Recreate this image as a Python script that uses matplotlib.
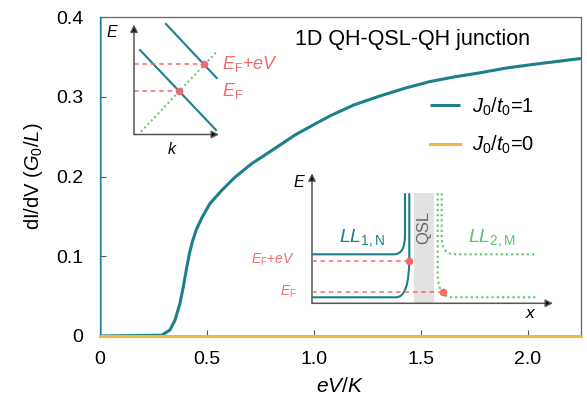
import matplotlib
matplotlib.use("Agg")
import matplotlib.pyplot as plt
from matplotlib.path import Path
from matplotlib.patches import PathPatch, Rectangle

plt.rcParams['font.family'] = ['Liberation Sans', 'DejaVu Sans']
plt.rcParams['mathtext.fontset'] = 'custom'
plt.rcParams['mathtext.rm'] = 'Liberation Sans'
plt.rcParams['mathtext.it'] = 'Liberation Sans:italic'
plt.rcParams['mathtext.bf'] = 'Liberation Sans:bold'

# ---------------- data ----------------
x_j1 = [0, 0, 0.2885, 0.327, 0.351, 0.374, 0.390, 0.405, 0.418, 0.432, 0.450, 0.476, 0.514,
        0.569, 0.631, 0.709, 0.803, 0.912, 1.0, 1.076, 1.19, 1.31, 1.43, 1.543, 1.66,
        1.777, 1.9, 2.01, 2.13, 2.25]
y_j1 = [0.45, 0, 0.001, 0.0075, 0.02, 0.041, 0.062, 0.085, 0.103, 0.118, 0.133, 0.148, 0.166,
        0.1825, 0.199, 0.216, 0.2325, 0.252, 0.265, 0.276, 0.290, 0.301, 0.311, 0.319, 0.325,
        0.330, 0.336, 0.340, 0.344, 0.348]
x_j0 = [0, 2.25]
y_j0 = [0, 0]
label_j1 = '$J_0/t_0$=1'
label_j0 = '$J_0/t_0$=0'
xticks = [0, 0.5, 1.0, 1.5, 2.0]
xticklabels = ['0', '0.5', '1.0', '1.5', '2.0']
yticks = [0, 0.1, 0.2, 0.3, 0.4]
yticklabels = ['0', '0.1', '0.2', '0.3', '0.4']

# schematic inset 1 (E vs k), local pixel units
k_lineA = ([6, 82], [84.5, 4.5])
k_lineB = ([32, 82.7], [110.5, 56.5])
k_green = ([7, 82.7], [2.8, 82.8])
k_levels = [43.5, 70.5]
k_cross = [45.3, 70.3]

# schematic inset 2 (E vs x), local pixel units
qsl_band = (102, 122)
ll_levels = [6, 49]

TEAL = '#1d7f89'
YELLOW = '#f0b449'
RED = '#f26b6b'
GREEN = '#5cc46e'
W, H = 587, 405

fig = plt.figure(figsize=(W / 100, H / 100), dpi=100)
ax = fig.add_axes([100 / W, 1 - 336 / H, 481 / W, 319 / H])

ax.plot(x_j1, y_j1, color=TEAL, lw=2.2, label=label_j1, zorder=3, solid_capstyle='butt')
ax.plot(x_j0, y_j0, color=YELLOW, lw=2.2, label=label_j0, zorder=4, clip_on=False)
ax.set_xlim(0, 2.25)
ax.set_ylim(0, 0.4)
ax.set_xticks(xticks)
ax.set_xticklabels(xticklabels)
ax.set_yticks(yticks)
ax.set_yticklabels(yticklabels)
ax.tick_params(direction='in', length=4, width=0.8, color='#555555', labelsize=14)
ax.tick_params(axis='x', pad=11)
ax.tick_params(axis='y', pad=12)
for s in ax.spines.values():
    s.set_color('#666666')
    s.set_linewidth(0.9)
    s.set_zorder(2)
ax.set_xlabel('$eV/K$', fontsize=15, labelpad=6)
ax.set_ylabel('dI/dV ($G_0/L$)', fontsize=14.5, labelpad=8)
ax.text(0.405, 0.93, '1D QH-QSL-QH junction', transform=ax.transAxes, ha='left',
        va='center', fontsize=15.5)
ax.legend(loc='upper left', bbox_to_anchor=(0.67, 0.78), frameon=False, fontsize=14.5,
          handlelength=1.45, handletextpad=0.6, labelspacing=0.8, borderaxespad=0)


def px_axes(x0, ybot, w, h):
    a = fig.add_axes([x0 / W, 1 - ybot / H, w / W, h / H])
    a.set_xlim(0, w)
    a.set_ylim(0, h)
    a.axis('off')
    a.patch.set_alpha(0)
    return a


def arrows(a, w, h):
    kw = dict(arrowstyle='-|>', color='#555555', lw=1.1, mutation_scale=11,
              shrinkA=0, shrinkB=0)
    a.annotate('', xy=(0, h), xytext=(0, 0), arrowprops=dict(kw, fc='black'), annotation_clip=False)
    a.annotate('', xy=(w, 0), xytext=(0, 0), arrowprops=dict(kw, fc='black'), annotation_clip=False)


# inset 1
a1 = px_axes(134, 134.5, 85, 110)
arrows(a1, 85, 110)
a1.plot(*k_lineA, color=TEAL, lw=1.5, clip_on=False)
a1.plot(*k_lineB, color=TEAL, lw=1.5, clip_on=False)
a1.plot(*k_green, color=GREEN, lw=1.4, ls=(0, (1, 1.5)), clip_on=False)
for lv, cx in zip(k_levels, k_cross):
    a1.plot([0, cx], [lv, lv], color=RED, lw=1.1, ls=(0, (3, 2.5)), clip_on=False)
    a1.plot(cx, lv, 'o', color=RED, ms=4.5, clip_on=False, zorder=5)
a1.text(88, k_levels[1], '$E_\\mathrm{F}$+$eV$', color=RED, fontsize=13, va='center', ha='left')
a1.text(88, k_levels[0], '$E_\\mathrm{F}$', color=RED, fontsize=13, va='center', ha='left')
a1.text(-22, 102.5, '$E$', fontsize=11.5, ha='center', va='center')
a1.text(38, -14, '$k$', fontsize=11.5, ha='center', va='center')

# inset 2
a2 = px_axes(312, 303.3, 241, 130)
a2.add_patch(Rectangle((qsl_band[0], 0), qsl_band[1] - qsl_band[0], 110, color='#e2e2e2', lw=0, zorder=1))
a2.text((qsl_band[0] + qsl_band[1]) / 2, 76, 'QSL', rotation=90, ha='center', va='center',
        fontsize=12, color='#666666')
arrows(a2, 241, 130)


def curve(a, pts, color, ls):
    codes = [Path.MOVETO, Path.LINETO, Path.CURVE3, Path.CURVE3, Path.LINETO]
    a.add_patch(PathPatch(Path(pts, codes), fill=False, ec=color, lw=1.5, ls=ls, zorder=3,
                          clip_on=False))


# teal (left) Landau levels
curve(a2, [(0, 6), (84, 6), (97.3, 6), (97.3, 45), (97.3, 110)], TEAL, '-')
curve(a2, [(0, 49), (82, 49), (93, 49), (93, 68), (93, 110)], TEAL, '-')
# green (right) Landau levels
curve(a2, [(125.7, 110), (125.7, 30), (125.7, 6), (140, 6), (225, 6)], GREEN, (0, (1, 1.5)))
curve(a2, [(129.7, 110), (129.7, 65), (129.7, 49), (143, 49), (225, 49)], GREEN, (0, (1, 1.5)))
# Fermi levels
a2.plot([0, 97.3], [42.3, 42.3], color=RED, lw=1.1, ls=(0, (3, 2.5)), zorder=4)
a2.plot(97.3, 42.3, 'o', color=RED, ms=4.5, zorder=5)
a2.plot([0, 130.5], [11, 11], color=RED, lw=1.1, ls=(0, (3, 2.5)), zorder=4)
a2.plot(130.5, 11, 'o', color=RED, ms=4.5, zorder=5)
a2.text(-17, 43.3, '$E_\\mathrm{F}$+$eV$', color=RED, fontsize=10, ha='right', va='center')
a2.text(-15, 11, '$E_\\mathrm{F}$', color=RED, fontsize=10, ha='right', va='center')
a2.text(50, 65, '$LL_{1,\\mathrm{N}}$', color=TEAL, fontsize=14, ha='center', va='center')
a2.text(180, 65, '$LL_{2,\\mathrm{M}}$', color=GREEN, fontsize=14, ha='center', va='center')
a2.text(-13, 121, '$E$', fontsize=11.5, ha='center', va='center')
a2.text(219, -10, '$x$', fontsize=12.5, ha='center', va='center')

fig.savefig('out.png', dpi=100)
